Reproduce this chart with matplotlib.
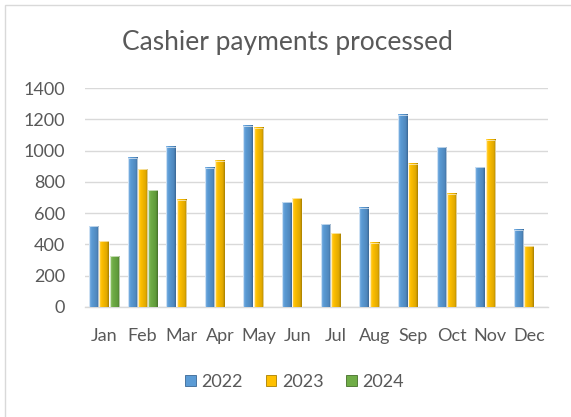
import numpy as np
import matplotlib
matplotlib.use("Agg")
import matplotlib.pyplot as plt
from matplotlib.colors import LinearSegmentedColormap
from matplotlib.patches import Rectangle

# monthly counts per year (None = no data yet)
months = ["Jan", "Feb", "Mar", "Apr", "May", "Jun",
          "Jul", "Aug", "Sep", "Oct", "Nov", "Dec"]
pay_2022 = [515, 955, 1025, 890, 1160, 670, 530, 635, 1230, 1020, 895, 495]
pay_2023 = [420, 880, 685, 935, 1145, 695, 470, 410, 915, 725, 1070, 390]
pay_2024 = [325, 745, None, None, None, None, None, None, None, None, None, None]
years = ["2022", "2023", "2024"]
y_ticks = [0, 200, 400, 600, 800, 1000, 1200, 1400]

# light edge -> face -> dark edge, gives the bevelled look
shades = [
    ["#8DBBE8", "#5B9BD5", "#4F88BD", "#3A6795"],
    ["#FFD966", "#FFC000", "#E0A800", "#A87F00"],
    ["#9BCB78", "#70AD47", "#5F9A3A", "#456F2A"],
]
TEXT = "#595959"
GRID = "#D9D9D9"
FONT = ["Lato", "DejaVu Sans"]

plt.rcParams["font.family"] = FONT

fig = plt.figure(figsize=(5.71, 4.17), dpi=100)
ax = fig.add_axes([0.1483, 0.2638, 0.812, 0.525])

# chart area frame
fig.patches.append(Rectangle((5 / 571, -0.05), 1.2, 1 - 5 / 417 + 0.05,
                             transform=fig.transFigure, fill=False,
                             edgecolor="#D9D9D9", linewidth=1.0, zorder=0))

x = np.arange(len(months))
pitch = 0.267
width = 0.245
grad = np.linspace(0, 1, 32).reshape(1, -1)

for k, series in enumerate([pay_2022, pay_2023, pay_2024]):
    cmap = LinearSegmentedColormap.from_list(
        f"bev{k}", [(0, shades[k][0]), (0.25, shades[k][1]),
                    (0.8, shades[k][2]), (1, shades[k][3])])
    for i, v in enumerate(series):
        if v is None:
            continue
        x0 = x[i] + (k - 1) * pitch - width / 2
        ax.imshow(grad, cmap=cmap, aspect="auto", interpolation="bilinear",
                  extent=(x0, x0 + width, 0, v), zorder=3)
        ax.add_patch(Rectangle((x0, 0), width, v, facecolor="none",
                               edgecolor="#FFFFFF", linewidth=0.6, alpha=0.7,
                               zorder=5))

ax.set_xlim(-0.5, len(months) - 0.5)
ax.set_ylim(0, 1400)
ax.set_yticks(y_ticks)
ax.set_xticks(x)
ax.set_xticklabels(months)
ax.grid(axis="y", color=GRID, linewidth=1.0, zorder=0)
ax.set_axisbelow(True)
for side in ["top", "right", "left"]:
    ax.spines[side].set_visible(False)
ax.spines["bottom"].set_color(GRID)
ax.spines["bottom"].set_linewidth(1.0)
ax.tick_params(axis="both", length=0, labelsize=13, colors=TEXT)
ax.tick_params(axis="y", pad=14)
ax.tick_params(axis="x", pad=15)

fig.text(0.504, 0.899, "Cashier payments processed", ha="center", va="center",
         fontsize=19, color=TEXT)

handles = [Rectangle((0, 0), 1, 1, facecolor=shades[k][1],
                     edgecolor=shades[k][3], linewidth=0.6) for k in range(3)]
fig.legend(handles, years, loc="center", bbox_to_anchor=(0.516, 0.084),
           ncol=3, frameon=False, fontsize=13, labelcolor=TEXT,
           handlelength=0.6, handleheight=0.6, handletextpad=0.3,
           columnspacing=1.25)

fig.savefig("out.png", dpi=100)
